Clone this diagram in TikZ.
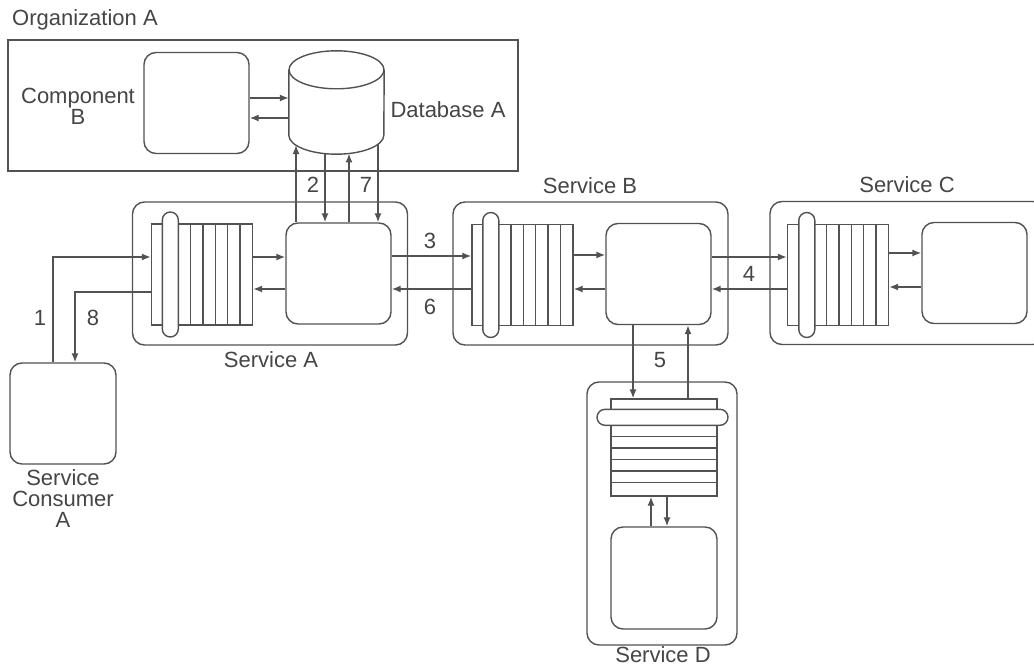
\documentclass[tikz,border=0pt]{standalone}
\usepackage{fontspec}
\setmainfont{Liberation Sans}
\usetikzlibrary{calc,arrows.meta}
\definecolor{ink}{gray}{0.32}
\tikzset{
	ln/.style={draw=ink, line width=1.4pt},
	svc/.style={ln, rectangle, rounded corners=12pt, minimum width=275pt, minimum height=143pt, inner sep=0pt},
	comp/.style={ln, rectangle, rounded corners=12pt, fill=white, minimum width=105pt, minimum height=101pt, inner sep=0pt},
	queue/.style={ln, rectangle, minimum width=101pt, minimum height=101pt, inner sep=0pt},
	pill/.style={ln, rectangle, rounded corners=8pt, fill=white, inner sep=0pt},
	arr/.style={draw=ink, line width=1.4pt, -{Latex[length=9pt,width=7pt]}},
	lbl/.style={text=ink!85!black, font=\fontsize{22}{21}\selectfont, align=center, inner sep=0pt},
}

\begin{document}
\begin{tikzpicture}[x=1pt,y=-1pt]
			%%%%% START %%%%%
			\useasboundingbox (0,0) rectangle (1034,666);
			
			% organization A
			\node[ln, rectangle, minimum width=510pt, minimum height=131pt, inner sep=0pt] (org) at (263,105.5) {};
			\node[lbl, anchor=west] (orgl) at (12,20) {Organization A};
			\node[comp] (compb) at (196.5,103) {};
			\node[lbl] (compbl) at (78,106) {Component\\B};
			
			% database A
			\node[rectangle, minimum width=95pt, minimum height=103pt, inner sep=0pt] (db) at (336.5,102.5) {};
			\draw[ln, fill=white] ($(db.north west)+(0,19)$) -- ($(db.south west)+(0,-19)$)
				arc[start angle=180, end angle=360, x radius=47.5pt, y radius=19pt] -- ($(db.north east)+(0,19)$);
			\draw[ln, fill=white] ($(db.north)+(0,19)$) ellipse[x radius=47.5pt, y radius=19pt];
			\node[lbl] (dbl) at (448,110) {Database A};
			
			% service A
			\node[svc] (sa) at (270,273.5) {};
			\node[queue] (qa) at (202,274.5) {};
			\foreach \i in {1,...,5} \draw[ln] ($(qa.north west)+(27.5+12.3*\i,0)$) -- ($(qa.south west)+(27.5+12.3*\i,0)$);
			\node[pill, minimum width=16pt, minimum height=125pt] (pa) at ($(qa.west)+(19.5,0)$) {};
			\node[comp] (ca) at (338.5,273.5) {};
			\node[lbl] (sal) at (271,360) {Service A};
			
			% service B
			\node[svc] (sb) at (590.5,273.5) {};
			\node[queue] (qb) at (522.5,275) {};
			\foreach \i in {1,...,5} \draw[ln] ($(qb.north west)+(27.5+12.3*\i,0)$) -- ($(qb.south west)+(27.5+12.3*\i,0)$);
			\node[pill, minimum width=16pt, minimum height=125pt] (pb) at ($(qb.west)+(19.5,0)$) {};
			\node[comp] (cb) at (658.5,274) {};
			\node[lbl] (sbl) at (590,186) {Service B};
			
			% service C
			\node[svc] (sc) at (907.5,273) {};
			\node[queue] (qc) at (838,275) {};
			\foreach \i in {1,...,5} \draw[ln] ($(qc.north west)+(27.5+12.3*\i,0)$) -- ($(qc.south west)+(27.5+12.3*\i,0)$);
			\node[pill, minimum width=16pt, minimum height=125pt] (pc) at ($(qc.west)+(20,0)$) {};
			\node[comp] (cc) at (974.5,273) {};
			\node[lbl] (scl) at (907,185) {Service C};
			
			% service D
			\node[svc, minimum width=150pt, minimum height=263pt] (sd) at (662,513.5) {};
			\node[queue, minimum width=106pt, minimum height=97pt] (qd) at (664,447.5) {};
			\foreach \i in {1,...,5} \draw[ln] ($(qd.north west)+(0,26.5+11.5*\i)$) -- ($(qd.north east)+(0,26.5+11.5*\i)$);
			\node[pill, minimum width=131pt, minimum height=16pt] (pd) at ($(qd.north)+(-1.5,19)$) {};
			\node[comp, minimum width=106pt, minimum height=102pt] (cd) at (664,578) {};
			\node[lbl] (sdl) at (663,655) {Service D};
			
			% service consumer A
			\node[comp, minimum width=106pt] (cons) at (63,413.5) {};
			\node[lbl] (consl) at (63,499) {Service\\Consumer\\A};
			
			% points on the bottom of database A
			\coordinate (d1) at ($(db.south)+(-40.5,-9.1)$);
			\coordinate (d2) at ($(db.south)+(-11.5,-0.6)$);
			\coordinate (d3) at ($(db.south)+(12.5,-0.7)$);
			\coordinate (d4) at ($(db.south)+(41.5,-9.7)$);
			
			% connectors
			\draw[arr] ([yshift=5pt]compb.east) -- ([yshift=5pt]compb.east -| db.west);
			\draw[arr] ([yshift=-15pt]compb.east -| db.west) -- ([yshift=-15pt]compb.east);
			
			\draw[arr] (d1 |- ca.north) -- (d1);
			\draw[arr] (d2) -- (d2 |- ca.north);
			\draw[arr] (d3 |- ca.north) -- (d3);
			\draw[arr] (d4) -- (d4 |- ca.north);
			
			\draw[arr] ([xshift=-10pt]cons.north) |- ([yshift=17.5pt]qa.west);
			\draw[arr] ([yshift=-17.5pt]qa.west) -| ([xshift=12pt]cons.north);
			
			\draw[arr] ([yshift=17.5pt]qa.east) -- ([yshift=17.5pt]qa.east -| ca.west);
			\draw[arr] ([yshift=-14.5pt]qa.east -| ca.west) -- ([yshift=-14.5pt]qa.east);
			
			\draw[arr] ([yshift=17.5pt]ca.east) -- ([yshift=17.5pt]ca.east -| qb.west);
			\draw[arr] ([yshift=-15.5pt]ca.east -| qb.west) -- ([yshift=-15.5pt]ca.east);
			
			\draw[arr] ([yshift=20pt]qb.east) -- ([yshift=20pt]qb.east -| cb.west);
			\draw[arr] ([yshift=-14pt]qb.east -| cb.west) -- ([yshift=-14pt]qb.east);
			
			\draw[arr] ([yshift=17pt]cb.east) -- ([yshift=17pt]cb.east -| qc.west);
			\draw[arr] ([yshift=-15pt]cb.east -| qc.west) -- ([yshift=-15pt]cb.east);
			
			\draw[arr] ([yshift=22pt]qc.east) -- ([yshift=22pt]qc.east -| cc.west);
			\draw[arr] ([yshift=-12pt]qc.east -| cc.west) -- ([yshift=-12pt]qc.east);
			
			\draw[arr] ([xshift=-25.5pt]cb.south) -- ([xshift=-25.5pt]cb.south |- qd.north);
			\draw[arr] ([xshift=29.5pt]cb.south |- qd.north) -- ([xshift=29.5pt]cb.south);
			
			\draw[arr] ([xshift=-13pt]cd.north) -- ([xshift=-13pt]cd.north |- qd.south);
			\draw[arr] ([xshift=3pt]cd.north |- qd.south) -- ([xshift=3pt]cd.north);
			
			% step numbers
			\node[lbl] (n1) at (40,318) {1};
			\node[lbl] (n2) at (313,185) {2};
			\node[lbl] (n3) at (430,241) {3};
			\node[lbl] (n4) at (749,274) {4};
			\node[lbl] (n5) at (660,360) {5};
			\node[lbl] (n6) at (430,307) {6};
			\node[lbl] (n7) at (366,185) {7};
			\node[lbl] (n8) at (93,318) {8};
			
			%%%%% END %%%%%
\end{tikzpicture}
\end{document}
